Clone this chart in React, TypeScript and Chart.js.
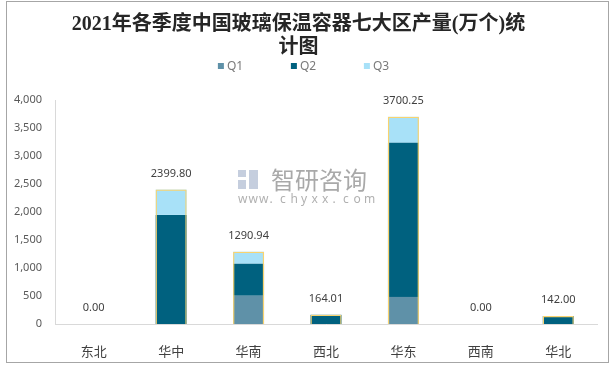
import React, { useEffect, useRef } from "react";
import { Chart, registerables } from "chart.js";

Chart.register(...registerables);

const categories = ["东北", "华中", "华南", "西北", "华东", "西南", "华北"];
const seriesNames = ["Q1", "Q2", "Q3"];
const q1Values = [0, 0, 505, 0, 484, 0, 0];
const q2Values = [0, 1948, 571, 164.01, 2751, 0, 142];
const q3Values = [0, 451.8, 214.94, 0, 465.25, 0, 0];
const totalValues = [0, 2399.8, 1290.94, 164.01, 3700.25, 0, 142.0];
const seriesColors = ["#5f91a8", "#00617f", "#a8e1f8"];
const titleLines = ["2021年各季度中国玻璃保温容器七大区产量(万个)统", "计图"];
const yMin = 0;
const yMax = 4000;
const yStep = 500;
const watermarkMain = "智研咨询";
const watermarkSub = "www.chyxx.com";

const framePlugin = {
  id: "frame",
  beforeDraw(chart: any) {
    const ctx = chart.ctx;
    ctx.save();
    ctx.fillStyle = "#ffffff";
    ctx.fillRect(0, 0, chart.width, chart.height);
    ctx.strokeStyle = "#a6a6a6";
    ctx.lineWidth = 1;
    ctx.strokeRect(6.5, 1.5, chart.width - 13, chart.height - 5);
    ctx.restore();
  },
};

const watermarkPlugin = {
  id: "watermark",
  beforeDatasetsDraw(chart: any) {
    const ctx = chart.ctx;
    ctx.save();
    // logo block
    ctx.fillStyle = "rgba(150,165,195,0.55)";
    ctx.fillRect(238, 170, 8, 7);
    ctx.fillRect(238, 180, 8, 9);
    ctx.fillRect(249, 170, 9, 19);
    ctx.fillStyle = "rgba(140,140,140,0.75)";
    ctx.font = '24px "Noto Sans CJK SC"';
    ctx.textBaseline = "middle";
    ctx.textAlign = "left";
    ctx.fillText(watermarkMain, 271, 180);
    ctx.font = '12px "Noto Sans"';
    ctx.fillStyle = "rgba(150,150,150,0.75)";
    const chars = watermarkSub.split("");
    chars.forEach((c, i) => {
      ctx.fillText(c, 238 + i * 10.5, 200);
    });
    ctx.restore();
  },
};

const legendPlugin = {
  id: "customLegend",
  afterDraw(chart: any) {
    const ctx = chart.ctx;
    ctx.save();
    ctx.font = '12px "Noto Sans"';
    ctx.textBaseline = "middle";
    ctx.textAlign = "left";
    const step = 73;
    const box = 6;
    const gap = 3;
    const lastW = box + gap + ctx.measureText(seriesNames[seriesNames.length - 1]).width;
    const total = step * (seriesNames.length - 1) + lastW;
    const startX = chart.width / 2 - 4 - total / 2;
    const y = 66;
    seriesNames.forEach((name, i) => {
      const x = startX + i * step;
      ctx.fillStyle = seriesColors[i];
      ctx.fillRect(x, y - 3, box, box);
      ctx.fillStyle = "#7a7a7a";
      ctx.fillText(name, x + box + gap, y + 0.5);
    });
    ctx.restore();
  },
};

const labelPlugin = {
  id: "totalLabels",
  afterDatasetsDraw(chart: any) {
    const meta = chart.getDatasetMeta(0);
    const ctx = chart.ctx;
    ctx.save();
    ctx.font = '11px "Noto Sans"';
    ctx.fillStyle = "#404040";
    ctx.textAlign = "center";
    ctx.textBaseline = "middle";
    meta.data.forEach((el: any, i: number) => {
      ctx.fillText(totalValues[i].toFixed(2), el.x, el.y - 16);
    });
    ctx.restore();
  },
};

export default function App() {
  const canvasRef = useRef<HTMLCanvasElement | null>(null);

  useEffect(() => {
    if (!canvasRef.current) return;
    const chart = new Chart(canvasRef.current, {
      type: "bar",
      data: {
        labels: categories,
        datasets: [
          {
            label: "合计",
            data: totalValues,
            backgroundColor: "rgba(0,0,0,0)",
            borderColor: "#f9d36f",
            borderWidth: 1.2,
            stack: "total",
            grouped: false,
            order: 0,
          } as any,
          {
            label: seriesNames[0],
            data: q1Values,
            backgroundColor: seriesColors[0],
            borderWidth: 0,
            stack: "q",
            order: 1,
          },
          {
            label: seriesNames[1],
            data: q2Values,
            backgroundColor: seriesColors[1],
            borderWidth: 0,
            stack: "q",
            order: 1,
          },
          {
            label: seriesNames[2],
            data: q3Values,
            backgroundColor: seriesColors[2],
            borderWidth: 0,
            stack: "q",
            order: 1,
          },
        ],
      },
      options: {
        animation: false,
        responsive: true,
        maintainAspectRatio: false,
        datasets: {
          bar: {
            categoryPercentage: 1,
            barPercentage: 0.4,
          },
        },
        layout: {
          padding: { left: 0, right: 18, top: 0, bottom: 0 },
        },
        plugins: {
          legend: { display: false },
          tooltip: { enabled: false },
          title: {
            display: true,
            text: titleLines,
            color: "#262626",
            font: {
              family: '"Liberation Serif", "Noto Sans CJK SC", serif',
              size: 20,
              weight: "bold",
              lineHeight: 1.15,
            },
            padding: { top: 13, bottom: 41 },
          },
        },
        scales: {
          x: {
            grid: { display: false },
            border: { display: true, color: "#d9d9d9" },
            ticks: {
              color: "#404040",
              padding: 11,
              font: { family: '"Noto Sans CJK SC"', size: 13 },
            },
            afterFit(scale: any) {
              scale.height = 42;
            },
          },
          y: {
            stacked: true,
            min: yMin,
            max: yMax,
            grid: { display: false, drawTicks: false },
            border: { display: true, color: "#d9d9d9" },
            ticks: {
              stepSize: yStep,
              color: "#595959",
              padding: 13,
              font: { family: '"Noto Sans"', size: 11 },
              callback: (v: any) => Number(v).toLocaleString("en-US"),
            },
            afterFit(scale: any) {
              scale.width = 55;
            },
          },
        },
      },
      plugins: [framePlugin, watermarkPlugin, labelPlugin, legendPlugin],
    });
    return () => chart.destroy();
  }, []);

  return (
    <div style={{ position: "absolute", left: 0, top: 0, width: 615, height: 366 }}>
      <canvas ref={canvasRef} />
    </div>
  );
}
